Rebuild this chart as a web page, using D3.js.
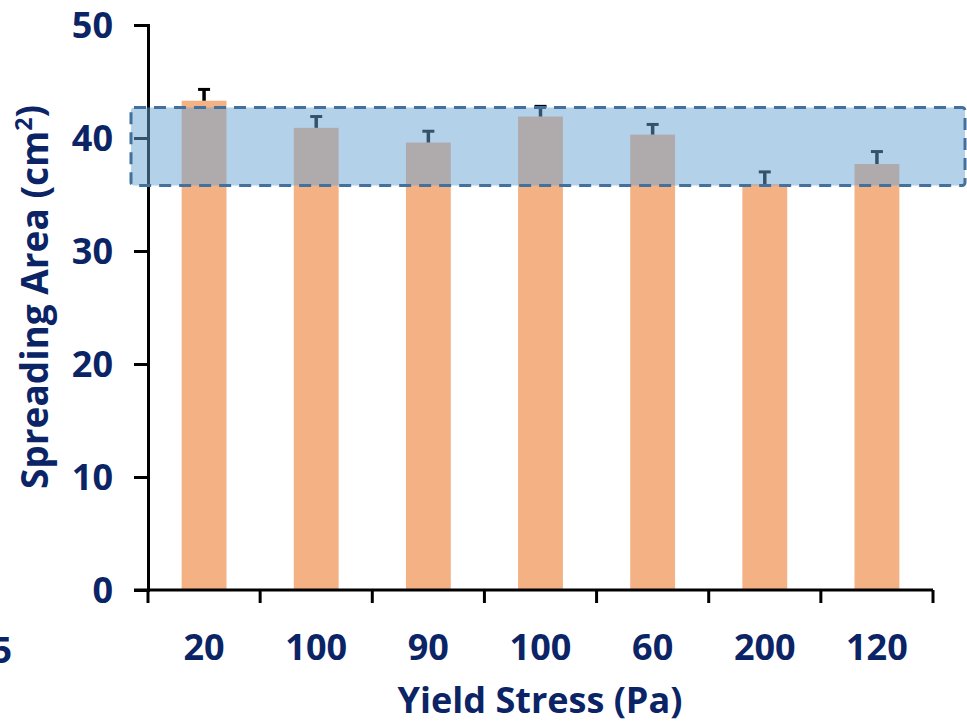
<html>
<head>
<script src="https://d3js.org/d3.v7.min.js"></script>
<style>
  body { margin: 0; background: #fff; }
  text { font-family: "Open Sans", Lato, sans-serif; font-weight: bold; fill: #0b2466; }
  .axis .domain, .axis line { stroke: #000; stroke-width: 3px; }
</style>
</head>
<body>
<svg id="chart" width="967" height="724"></svg>
<script>
// data
const categories = ["20", "100", "90", "100", "60", "200", "120"];
const spreadArea = [43.3, 40.9, 39.6, 41.9, 40.3, 35.9, 37.7];
const spreadErr = [1.0, 1.0, 1.0, 0.9, 0.9, 1.1, 1.1];
const yTicks = [0, 10, 20, 30, 40, 50];
const bandRange = [35.8, 42.7];

const svg = d3.select("#chart");
const plotLeft = 148, plotRight = 933, plotTop = 25, plotBottom = 590;

const x = d3.scaleBand()
  .domain(d3.range(categories.length))
  .range([plotLeft, plotRight])
  .paddingInner(0.6)
  .paddingOuter(0.3);

const y = d3.scaleLinear().domain([0, 50]).range([plotBottom, plotTop]);

// bars
svg.append("g").selectAll("rect")
  .data(spreadArea)
  .join("rect")
  .attr("x", (d, i) => x(i))
  .attr("y", d => y(d))
  .attr("width", x.bandwidth())
  .attr("height", d => y(0) - y(d))
  .attr("fill", "#f4b183");

// error bars (upper only)
const err = svg.append("g");
spreadArea.forEach((v, i) => {
  const cx = x(i) + x.bandwidth() / 2;
  err.append("line")
    .attr("x1", cx).attr("x2", cx)
    .attr("y1", y(v)).attr("y2", y(v + spreadErr[i]))
    .attr("stroke", "#000").attr("stroke-width", 3.5);
  err.append("line")
    .attr("x1", cx - 6).attr("x2", cx + 6)
    .attr("y1", y(v + spreadErr[i])).attr("y2", y(v + spreadErr[i]))
    .attr("stroke", "#000").attr("stroke-width", 3);
});

// axes
svg.append("g")
  .attr("class", "axis")
  .attr("transform", `translate(${plotLeft},0)`)
  .call(d3.axisLeft(y).tickValues(yTicks).tickSize(14).tickFormat(""));

const xEdges = d3.range(categories.length + 1).map(i => plotLeft + i * x.step());
const xAxis = svg.append("g").attr("class", "axis");
xAxis.append("line")
  .attr("x1", plotLeft - 14).attr("x2", plotRight)
  .attr("y1", plotBottom).attr("y2", plotBottom)
  .attr("stroke", "#000").attr("stroke-width", 3);
xAxis.selectAll("line.tk")
  .data(xEdges)
  .join("line")
  .attr("class", "tk")
  .attr("x1", d => d).attr("x2", d => d)
  .attr("y1", plotBottom).attr("y2", plotBottom + 13)
  .attr("stroke", "#000").attr("stroke-width", 3);

// shaded range
svg.append("rect")
  .attr("x", plotLeft - 17)
  .attr("y", y(bandRange[1]))
  .attr("width", 965 - (plotLeft - 17))
  .attr("height", y(bandRange[0]) - y(bandRange[1]))
  .attr("rx", 3)
  .attr("fill", "rgb(105,163,213)")
  .attr("fill-opacity", 0.5)
  .attr("stroke", "#41719c")
  .attr("stroke-width", 3)
  .attr("stroke-dasharray", "12,8");

// tick labels
svg.append("g").selectAll("text")
  .data(yTicks)
  .join("text")
  .attr("x", 113)
  .attr("y", d => y(d))
  .attr("dy", "0.36em")
  .attr("text-anchor", "end")
  .style("font-size", "36px")
  .text(d => d);

svg.append("g").selectAll("text")
  .data(categories)
  .join("text")
  .attr("x", (d, i) => x(i) + x.bandwidth() / 2)
  .attr("y", 647)
  .attr("dy", "0.36em")
  .attr("text-anchor", "middle")
  .style("font-size", "36px")
  .text(d => d);

// axis titles
svg.append("text")
  .attr("x", 540)
  .attr("y", 700)
  .attr("dy", "0.36em")
  .attr("text-anchor", "middle")
  .style("font-size", "36px")
  .text("Yield Stress (Pa)");

const yt = svg.append("text")
  .attr("transform", "translate(35,297) rotate(-90)")
  .attr("dy", "0.36em")
  .attr("text-anchor", "middle")
  .style("font-size", "37px");
yt.append("tspan").text("Spreading Area (cm");
yt.append("tspan").attr("dy", "-0.7em").style("font-size", "23px").text("2");
yt.append("tspan").attr("dy", "0.3em").text(")");

// label of the neighbouring panel, cut by the left edge as in the reference
svg.append("text")
  .attr("x", 12)
  .attr("y", 650)
  .attr("dy", "0.36em")
  .attr("text-anchor", "end")
  .style("font-size", "36px")
  .text("5");
</script>
</body>
</html>
